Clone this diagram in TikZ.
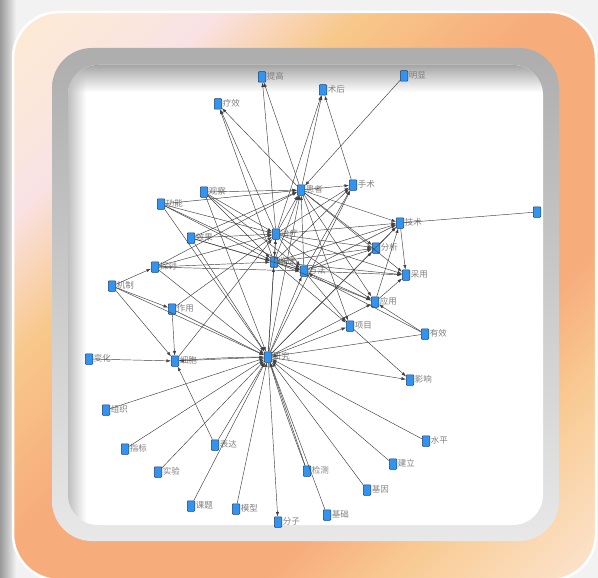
\documentclass[tikz,border=0pt]{standalone}
\usepackage{fontspec}
\newfontfamily\cjk{Noto Sans CJK SC}
\usetikzlibrary{arrows.meta,fadings}

\definecolor{termblue}{RGB}{50,148,240}
\definecolor{termrim}{RGB}{30,62,105}
\definecolor{termtext}{RGB}{128,128,128}
\definecolor{fcream}{RGB}{252,234,214}
\definecolor{fpink}{RGB}{250,226,228}
\definecolor{forange}{RGB}{248,200,138}
\definecolor{fsalmon}{RGB}{247,172,124}
\definecolor{fpeach}{RGB}{249,203,148}
\definecolor{flight}{RGB}{252,228,206}

\pgfdeclarehorizontalshading{framegrad}{100bp}{color(0bp)=(fcream); color(17bp)=(fcream); color(27bp)=(fpink); color(36bp)=(forange); color(47bp)=(fsalmon); color(65bp)=(fsalmon); color(73bp)=(fpeach); color(85bp)=(flight); color(100bp)=(flight)}

\tikzfading[name=fade right, left color=transparent!0, right color=transparent!100]
\tikzfading[name=fade down, top color=transparent!0, bottom color=transparent!100]

\begin{document}
\begin{tikzpicture}[x=1pt,y=-1pt,>={Latex[length=4.5pt,width=3.2pt]},line width=.45pt,
    term/.style={draw=termrim, fill=termblue, line width=.5pt, rounded corners=.8pt,
                 minimum width=7.5pt, minimum height=10.5pt, inner sep=0pt},
    lbl/.style={font=\cjk\fontsize{8.5}{9}\selectfont, text=termtext, inner sep=.6pt, yshift=1pt}]
    \useasboundingbox (0,0) rectangle (598,578);

    % frame
    \fill[black!5] (0,0) rectangle (598,578);
    \shade[left color=black!40, right color=black!5] (0,0) rectangle (16,578);
    \shadedraw[shading=framegrad, shading angle=-45, rounded corners=46, draw=white, line width=2.5pt] (13,12) rectangle (596,580);
    \shade[top color=black!32, bottom color=black!9, rounded corners=40] (52,48) rectangle (559,541);
    \fill[white, rounded corners=30] (68,65) rectangle (543,525);
    \begin{scope}
        \clip[rounded corners=30] (68,65) rectangle (543,525);
        \fill[black!35, path fading=fade down] (68,65) rectangle (543,92);
        \fill[black!25, path fading=fade right] (68,65) rectangle (86,525);
    \end{scope}

    % terms
    \node [term, label={[lbl]right:提高}] (tg) at (262, 77) {};
    \node [term, label={[lbl]right:术后}] (sh) at (323, 90) {};
    \node [term, label={[lbl]right:明显}] (mx) at (404, 76) {};
    \node [term, label={[lbl]right:疗效}] (lx) at (218, 104) {};
    \node [term, label={[lbl]right:患者}] (hz) at (301, 190) {};
    \node [term, label={[lbl]right:手术}] (ss) at (353, 185) {};
    \node [term, label={[lbl]right:观察}] (gc) at (204, 192) {};
    \node [term, label={[lbl]right:功能}] (gn) at (161, 204) {};
    \node [term, label={[lbl]right:技术}] (js) at (400, 223) {};
    \node [term] (rn) at (537, 212) {};
    \node [term, label={[lbl]right:治疗}] (zl) at (276, 234) {};
    \node [term, label={[lbl]right:效果}] (xg) at (191, 238) {};
    \node [term, label={[lbl]right:分析}] (fx) at (376, 248) {};
    \node [term, label={[lbl]right:探讨}] (tt) at (155, 267) {};
    \node [term, label={[lbl]right:临床}] (lc) at (274, 262) {};
    \node [term, label={[lbl]right:方法}] (ff) at (304, 271) {};
    \node [term, label={[lbl]right:采用}] (cy) at (406, 275) {};
    \node [term, label={[lbl]right:机制}] (jz) at (112, 286) {};
    \node [term, label={[lbl]right:应用}] (yy) at (375, 302) {};
    \node [term, label={[lbl]right:作用}] (zy) at (172, 309) {};
    \node [term, label={[lbl]right:项目}] (xm) at (350, 326) {};
    \node [term, label={[lbl]right:有效}] (yxo) at (425, 334) {};
    \node [term, label={[lbl]right:研究}] (yj) at (268, 357) {};
    \node [term, label={[lbl]right:变化}] (bh) at (89, 359) {};
    \node [term, label={[lbl]right:细胞}] (xb) at (175, 361) {};
    \node [term, label={[lbl]right:影响}] (yx) at (410, 380) {};
    \node [term, label={[lbl]right:组织}] (zz) at (106, 410) {};
    \node [term, label={[lbl]right:水平}] (sp) at (426, 441) {};
    \node [term, label={[lbl]right:指标}] (zb) at (125, 449) {};
    \node [term, label={[lbl]right:表达}] (bd) at (215, 445) {};
    \node [term, label={[lbl]right:建立}] (jl) at (393, 464) {};
    \node [term, label={[lbl]right:实验}] (sy) at (158, 472) {};
    \node [term, label={[lbl]right:检测}] (jc) at (307, 471) {};
    \node [term, label={[lbl]right:基因}] (jy) at (367, 490) {};
    \node [term, label={[lbl]right:课题}] (kt) at (191, 506) {};
    \node [term, label={[lbl]right:模型}] (mxg) at (236, 509) {};
    \node [term, label={[lbl]right:分子}] (fz) at (278, 522) {};
    \node [term, label={[lbl]right:基础}] (jch) at (327, 515) {};

    % links
    \begin{scope}[black!75]
    \draw [->] (hz) edge (tg) edge (sh) edge (lx);
    \draw [->] (zl) edge (tg) edge (sh) edge (lx);
    \draw [->] (lc) edge (lx);
    \draw [->] (ss) edge (sh);
    \draw [->] (mx) edge (hz);

    \draw [->] (gc) edge (hz) edge (zl) edge (lc) edge (ff) edge (yj);
    \draw [->] (gn) edge (hz) edge (zl) edge (lc) edge (ff) edge (yj);
    \draw [->] (xg) edge (hz) edge (zl) edge (lc) edge (ff) edge (yj);
    \draw [->] (tt) edge (hz) edge (zl) edge (lc) edge (ff) edge (yj);
    \draw [->] (jz) edge (tt) edge (zy) edge (xb) edge (yj);
    \draw [->] (zy) edge (xb) edge (zl) edge (yj);
    \draw [->] (bh) edge (xb);
    \draw [->] (bd) edge (xb);
    \draw [->] (xb) edge (zl) edge[bend left=2] (yj);

    \draw [->] (zl) edge (hz) edge (lc) edge (ff) edge (ss) edge (js) edge (fx) edge (cy) edge (yy);
    \draw [->] (lc) edge (hz) edge (ff) edge (ss) edge (js) edge (fx) edge (cy) edge (yy) edge (xm);
    \draw [->] (ff) edge (hz) edge (ss) edge (js) edge (fx) edge (cy) edge (yy) edge (xm);
    \draw [->] (hz) edge (ss) edge (js) edge (fx) edge (cy) edge (yy) edge (xm);
    \draw [->] (yj) edge (hz) edge (zl) edge (lc) edge (ff) edge (ss) edge (js) edge (fx) edge (yy)
                    edge (xm) edge (xb) edge (yx) edge (fz);

    \draw [->] (js) edge (cy);
    \draw (js) -- (rn);
    \draw [->] (fx) edge (js);
    \draw [->] (yy) edge (js) edge (cy);
    \draw [->] (yxo) edge (ff) edge (yy) edge (yj);
    \draw [->] (xm) edge (yx);

    \draw [->] (zz) edge (yj);
    \draw [->] (zb) edge (yj);
    \draw [->] (sy) edge (yj);
    \draw [->] (bd) edge (yj);
    \draw [->] (kt) edge (yj);
    \draw [->] (mxg) edge (yj);
    \draw [->] (jc) edge (yj) edge[bend left=2] (yj);
    \draw [->] (jch) edge (yj);
    \draw [->] (jy) edge (yj);
    \draw [->] (jl) edge (yj);
    \draw [->] (sp) edge (yj);
    \end{scope}

\end{tikzpicture}
\end{document}
